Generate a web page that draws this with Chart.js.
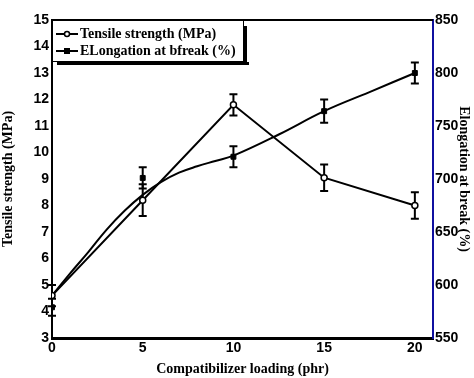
<!DOCTYPE html>
<html>
<head>
<meta charset="utf-8">
<script src="https://cdn.jsdelivr.net/npm/chart.js@4"></script>
<style>
  html, body { margin: 0; padding: 0; background: #fff; }
  #wrap { width: 474px; height: 378px; }
</style>
</head>
<body>
<div id="wrap"><canvas id="myChart" width="474" height="378"></canvas></div>
<script>
// compatibilizer loading (phr)
const loading = [0, 5, 10, 15, 20];
// tensile strength (MPa) and its error
const tensile = [4.6, 8.2, 11.8, 9.05, 8.0];
const tensileErr = [0.4, 0.6, 0.4, 0.5, 0.5];
// elongation at break (%) and its error
const elongation = [579, 701, 721, 764, 800];
const elongationErr = [8, 10, 10, 11, 10];
// fitted curve for elongation
const fitX = [0, 1, 2, 3, 4, 5, 6, 7, 8, 9, 10, 12.5, 15, 17.5, 20];
const fitY = [590, 611, 631, 652, 670, 685, 697, 706, 712, 717, 722, 742, 764, 782, 800];

const leftTicks = [3, 4, 5, 6, 7, 8, 9, 10, 11, 12, 13, 14, 15];
const rightTicks = [550, 600, 650, 700, 750, 800, 850];
const xTicks = [0, 5, 10, 15, 20];

const serif = "'Liberation Serif', 'Times New Roman', serif";
const sans = "'Liberation Sans', Arial, sans-serif";

const pts = (xs, ys) => xs.map((x, i) => ({ x: x, y: ys[i] }));

// error bars drawn under the markers
const errorBars = {
  id: 'errorBars',
  beforeDatasetsDraw(chart) {
    const ctx = chart.ctx;
    const xs = chart.scales.x;
    const sets = [
      { vals: tensile, err: tensileErr, axis: chart.scales.y },
      { vals: elongation, err: elongationErr, axis: chart.scales.y1 }
    ];
    ctx.save();
    ctx.strokeStyle = '#000';
    ctx.lineWidth = 2;
    sets.forEach(s => {
      s.vals.forEach((v, i) => {
        const px = xs.getPixelForValue(loading[i]);
        const top = s.axis.getPixelForValue(v + s.err[i]);
        const bot = s.axis.getPixelForValue(v - s.err[i]);
        ctx.beginPath();
        ctx.moveTo(px, top); ctx.lineTo(px, bot);
        ctx.moveTo(px - 4, top); ctx.lineTo(px + 4, top);
        ctx.moveTo(px - 4, bot); ctx.lineTo(px + 4, bot);
        ctx.stroke();
      });
    });
    ctx.restore();
  }
};

// top frame line and boxed legend inside plot
const frameLegend = {
  id: 'frameLegend',
  afterDraw(chart) {
    const ctx = chart.ctx;
    const a = chart.chartArea;
    ctx.save();
    ctx.strokeStyle = '#000';
    ctx.lineWidth = 2;
    ctx.beginPath();
    ctx.moveTo(a.left, a.top); ctx.lineTo(a.right, a.top);
    ctx.stroke();

    const bx = a.left, by = a.top, bw = 192, bh = 42;
    // shadow
    ctx.fillStyle = '#000';
    ctx.fillRect(bx + 5, by + bh, bw, 3);
    ctx.fillRect(bx + bw, by + 6, 3, bh - 3);
    ctx.fillStyle = '#fff';
    ctx.fillRect(bx, by, bw, bh);
    ctx.lineWidth = 1;
    ctx.strokeRect(bx + 0.5, by + 0.5, bw - 1, bh - 1);

    const items = [
      { text: 'Tensile strength (MPa)', y: by + 14, marker: 'circle' },
      { text: 'ELongation at bfreak (%)', y: by + 31, marker: 'square' }
    ];
    ctx.font = 'bold 14px ' + serif;
    ctx.textBaseline = 'middle';
    items.forEach(it => {
      ctx.lineWidth = 2;
      ctx.strokeStyle = '#000';
      ctx.beginPath();
      ctx.moveTo(bx + 4, it.y); ctx.lineTo(bx + 26, it.y);
      ctx.stroke();
      if (it.marker === 'circle') {
        ctx.fillStyle = '#fff';
        ctx.lineWidth = 1.5;
        ctx.beginPath(); ctx.arc(bx + 15, it.y, 2.5, 0, Math.PI * 2); ctx.fill(); ctx.stroke();
      } else {
        ctx.fillStyle = '#000';
        ctx.fillRect(bx + 12, it.y - 3, 6, 6);
      }
      ctx.fillStyle = '#000';
      ctx.fillText(it.text, bx + 28, it.y);
    });
    ctx.restore();
  }
};

new Chart(document.getElementById('myChart'), {
  type: 'line',
  data: {
    datasets: [
      {
        label: 'Tensile strength (MPa)',
        data: pts(loading, tensile),
        yAxisID: 'y',
        borderColor: '#000',
        borderWidth: 2,
        pointStyle: 'circle',
        pointRadius: 3,
        pointBorderWidth: 1.5,
        pointBackgroundColor: '#fff',
        pointBorderColor: '#000',
        tension: 0
      },
      {
        label: 'fit',
        data: pts(fitX, fitY),
        yAxisID: 'y1',
        borderColor: '#000',
        borderWidth: 2,
        pointRadius: 0,
        tension: 0.4
      },
      {
        label: 'ELongation at bfreak (%)',
        data: pts(loading, elongation),
        yAxisID: 'y1',
        showLine: false,
        pointStyle: 'rect',
        pointRadius: 3.5,
        pointBackgroundColor: '#000',
        pointBorderColor: '#000'
      }
    ]
  },
  options: {
    responsive: false,
    animation: false,
    layout: { padding: { top: 20, left: 0, right: 0, bottom: 0 } },
    plugins: { legend: { display: false }, tooltip: { enabled: false } },
    scales: {
      x: {
        type: 'linear',
        min: 0, max: 21,
        afterBuildTicks: s => { s.ticks = xTicks.map(v => ({ value: v })); },
        afterFit: s => { s.height = 40; },
        grid: { display: false, drawTicks: false },
        border: { display: true, color: '#000', width: 3 },
        ticks: { color: '#000', font: { family: sans, size: 14, weight: 'bold' }, padding: 2, maxRotation: 0 },
        title: { display: true, text: 'Compatibilizer loading (phr)', color: '#000',
                 font: { family: serif, size: 14, weight: 'bold' }, padding: { top: 6, bottom: 0 } }
      },
      y: {
        position: 'left',
        min: 3, max: 15,
        afterBuildTicks: s => { s.ticks = leftTicks.map(v => ({ value: v })); },
        afterFit: s => { s.width = 52; },
        grid: { display: false, drawTicks: false },
        border: { display: true, color: '#000', width: 2 },
        ticks: { color: '#000', font: { family: sans, size: 14, weight: 'bold' }, padding: 3 },
        title: { display: true, text: 'Tensile strength (MPa)', color: '#000',
                 font: { family: serif, size: 14, weight: 'bold' }, padding: { top: 0, bottom: 4 } }
      },
      y1: {
        position: 'right',
        min: 550, max: 850,
        afterBuildTicks: s => { s.ticks = rightTicks.map(v => ({ value: v })); },
        afterFit: s => { s.width = 41; },
        grid: { display: false, drawTicks: false },
        border: { display: true, color: '#1010a0', width: 2 },
        ticks: { color: '#000', font: { family: sans, size: 14, weight: 'bold' }, padding: 2 },
        title: { display: true, text: 'Elongation at break (%)', color: '#000',
                 font: { family: serif, size: 14, weight: 'bold' }, padding: { top: 2, bottom: 0 } }
      }
    }
  },
  plugins: [errorBars, frameLegend]
});
</script>
</body>
</html>
